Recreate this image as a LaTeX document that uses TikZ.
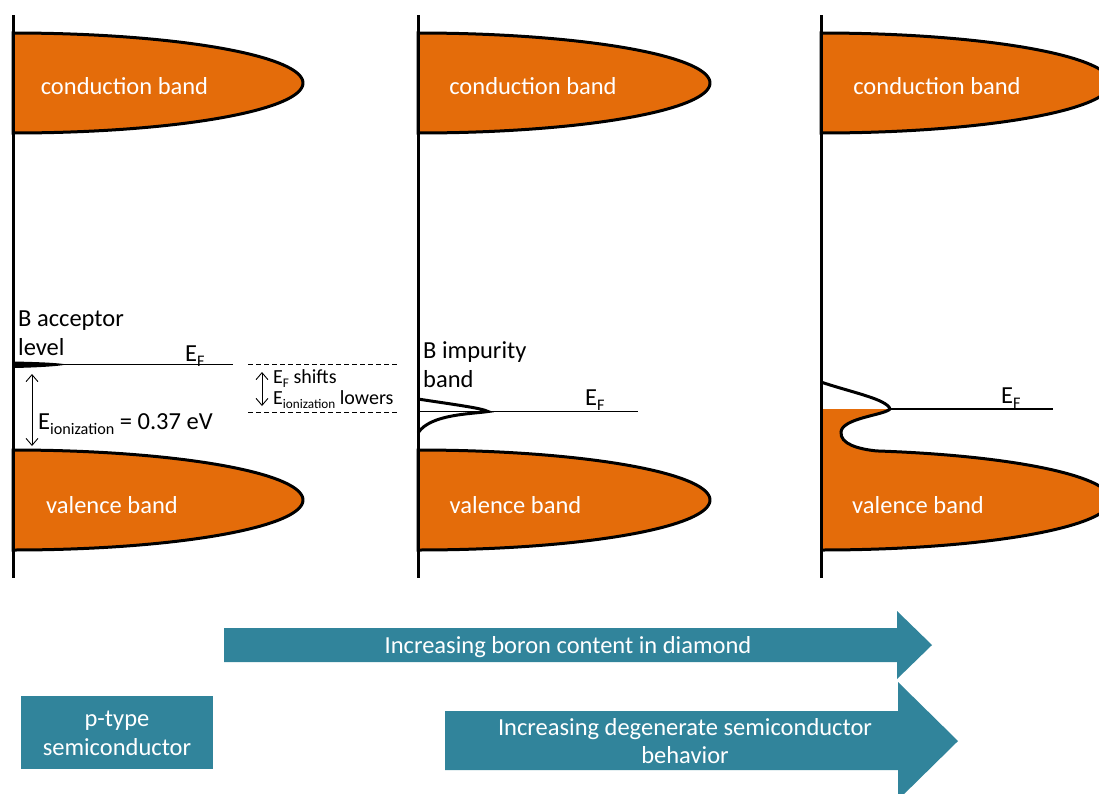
\documentclass[tikz,border=0pt]{standalone}
\usepackage{fontspec}
\setmainfont{Carlito}
\usetikzlibrary{arrows.meta}
\definecolor{bandorange}{HTML}{E46C0A}
\definecolor{tealfill}{HTML}{31849B}
\newcommand\lsub[1]{\raisebox{-0.24em}{\fontsize{0.66em}{0.66em}\selectfont #1}}
\begin{document}
\begin{tikzpicture}[x=1pt,y=-1pt,
  axisline/.style={line width=3pt},
  band/.style={fill=bandorange,draw=black,line width=3pt},
  bandtext/.style={text=white,font=\fontsize{24.5}{29}\selectfont,anchor=base,inner sep=0pt},
  lbl/.style={font=\fontsize{24.5}{29}\selectfont,anchor=base west,inner sep=0pt},
  smalllbl/.style={font=\fontsize{20}{22}\selectfont,anchor=base west,inner sep=0pt},
  efline/.style={line width=1.4pt},
  dos/.style={line width=3pt},
  dimarrow/.style={line width=0.9pt,{Straight Barb[length=7pt,width=12pt]}-{Straight Barb[length=7pt,width=12pt]}},
  dashline/.style={line width=1pt,dash pattern=on 5pt off 3pt},
  tealshape/.style={fill=tealfill},
  arrowtext/.style={text=white,font=\fontsize{24.5}{29}\selectfont,anchor=base,inner sep=0pt}]
\useasboundingbox (0,0) rectangle (1099,793);
\clip (0,0) rectangle (1099,793);

% ---------- bands ----------
\filldraw[band] plot[domain=90:-90,samples=90] ({13+290*cos(\x)},{83-50*sin(\x)}) -- cycle;
\filldraw[band] plot[domain=90:-90,samples=90] ({13+290*cos(\x)},{500-50*sin(\x)}) -- cycle;
\filldraw[band] plot[domain=90:-90,samples=90] ({418+292*cos(\x)},{83-50*sin(\x)}) -- cycle;
\filldraw[band] plot[domain=90:-90,samples=90] ({418+292*cos(\x)},{500-50*sin(\x)}) -- cycle;
\filldraw[band] plot[domain=90:-90,samples=90] ({821+290*cos(\x)},{83-50*sin(\x)}) -- cycle;

% panel 3 valence band with filled states up to E_F
\begin{scope}
  \clip (815,409) rectangle (1099,600);
  \fill[bandorange] (821,382) .. controls (850,392) and (887,399) .. (890,409)
    .. controls (885,415) and (842,418) .. (841,432)
    .. controls (840,444) and (858,449) .. (877,451)
    -- plot[domain=79:-90,samples=90] ({821+290*cos(\x)},{500-50*sin(\x)}) -- cycle;
\end{scope}
\draw[dos] (821,382) .. controls (850,392) and (887,399) .. (890,409)
    .. controls (885,415) and (842,418) .. (841,432)
    .. controls (840,444) and (858,449) .. (877,451)
    -- plot[domain=79:-90,samples=90] ({821+290*cos(\x)},{500-50*sin(\x)});

% ---------- axes ----------
\draw[axisline] (13,15) -- (13,578);
\draw[axisline] (418,15) -- (418,578);
\draw[axisline] (821,15) -- (821,578);

% ---------- Fermi levels ----------
\draw[efline] (13,364.5) -- (233,364.5);
\draw[efline] (418,411.5) -- (638,411.5);
\draw[efline] (890,409) -- (1053,409);

% acceptor level
\fill (13,361.5) .. controls (40,362) and (60,363) .. (66,364.5)
   .. controls (60,366) and (40,367.5) .. (13,368) -- cycle;
% impurity band
\draw[dos] (418,399) .. controls (450,404) and (482,408) .. (488,411.5)
   .. controls (472,414) and (430,414) .. (418,433);

% ---------- dimension arrows and dashed lines ----------
\coordinate (d1t) at (32,374);
\coordinate (d1b) at (32,446);
\draw[dimarrow] (d1t) -- (d1b);
\coordinate (d2t) at (262,372);
\coordinate (d2b) at (262,406);
\draw[dimarrow] (d2t) -- (d2b);
\coordinate (h1a) at (248,364.5);
\coordinate (h1b) at (398,364.5);
\coordinate (h2a) at (248,412.5);
\coordinate (h2b) at (398,412.5);
\draw[dashline] (h1a) -- (h1b);
\draw[dashline] (h2a) -- (h2b);

% ---------- labels ----------
\node[bandtext] (cb1) at (124.5,94) {conduction band};
\node[bandtext] (cb2) at (533,94) {conduction band};
\node[bandtext] (cb3) at (937,94) {conduction band};
\node[bandtext] (vb1) at (112,513) {valence band};
\node[bandtext] (vb2) at (515.5,513) {valence band};
\node[bandtext] (vb3) at (918,513) {valence band};

\node[lbl] (acc1) at (18,326) {B acceptor};
\node[lbl] (acc2) at (18,355) {level};
\node[lbl] (ef1) at (185,361) {E\lsub{F}};
\node[lbl] (ion) at (38,429) {E\lsub{ionization} = 0.37 eV};
\node[lbl] (imp1) at (423,358) {B impurity};
\node[lbl] (imp2) at (423,387) {band};
\node[lbl] (ef2) at (585,405) {E\lsub{F}};
\node[lbl] (ef3) at (1001,403) {E\lsub{F}};
\node[smalllbl] (shift) at (273,383) {E\lsub{F} shifts};
\node[smalllbl] (lower) at (273,404) {E\lsub{ionization} lowers};

% ---------- teal arrows and box ----------
\fill[tealshape] (224,628) -- (897,628) -- (897,611) -- (932,645) -- (897,679) -- (897,662) -- (224,662) -- cycle;
\fill[tealshape] (445,711) -- (898,711) -- (898,682) -- (958,741) -- (898,800) -- (898,770) -- (445,770) -- cycle;
\fill[tealshape] (21,696) rectangle (213,769);

\node[arrowtext] (a1) at (568,653) {Increasing boron content in diamond};
\node[arrowtext] (a2a) at (685,735) {Increasing degenerate semiconductor};
\node[arrowtext] (a2b) at (685,763) {behavior};
\node[arrowtext] (p1) at (117,726) {p-type};
\node[arrowtext] (p2) at (117,755) {semiconductor};
\end{tikzpicture}
\end{document}
